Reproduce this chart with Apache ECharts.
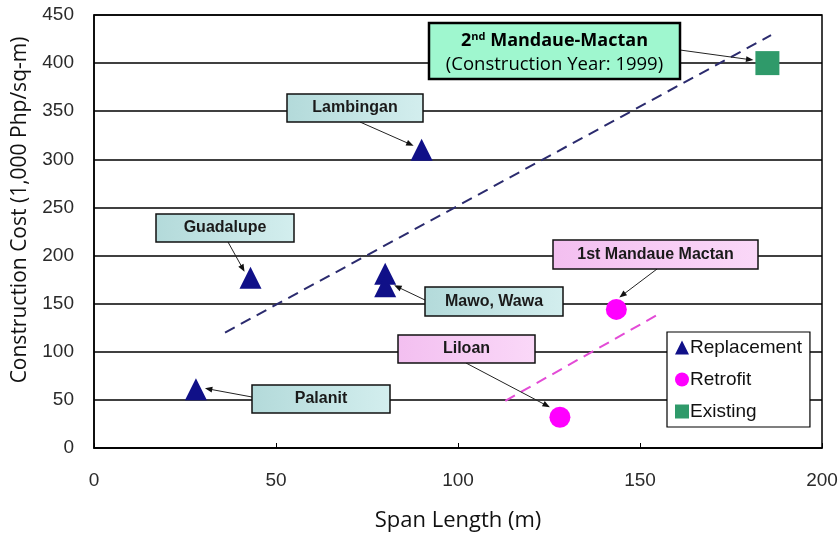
<!DOCTYPE html>
<html>
<head>
<meta charset="utf-8">
<title>Construction Cost vs Span Length</title>
<script src="https://cdn.jsdelivr.net/npm/echarts@6/dist/echarts.min.js"></script>
<style>html,body{margin:0;padding:0;background:#fff;}</style>
</head>
<body>
<div id="main" style="width:838px;height:534px;"></div>
<script>
// data: [span length (m), cost (1,000 Php/sq-m)]
var replacement = [[28, 61], [43, 177], [80, 181], [80, 168], [90, 310]];
var retrofit = [[143.5, 144], [128, 32]];
var existing = [[185, 400]];
var trendReplacement = [[36, 120], [186, 429]];
var trendRetrofit = [[113, 49], [156, 141]];
var seriesNames = ['Replacement', 'Retrofit', 'Existing'];

// callouts: box in pixels, arrow tail in pixels, arrow head = point + offset
var callouts = [
  { text: 'Lambingan', box: [287, 94, 136, 28], fill: ['#b3dada', '#d3eeee'], from: [360, 122], pt: replacement[4], off: [-8, -4] },
  { text: 'Guadalupe', box: [156, 214, 138, 28], fill: ['#b3dada', '#d3eeee'], from: [228, 242], pt: replacement[1], off: [-6, -6] },
  { text: 'Mawo, Wawa', box: [425, 287, 138, 29], fill: ['#b3dada', '#d3eeee'], from: [425, 300], pt: replacement[3], off: [9, -1] },
  { text: 'Palanit', box: [252, 385, 138, 28], fill: ['#b3dada', '#d3eeee'], from: [252, 397], pt: replacement[0], off: [9, -1] },
  { text: '1st Mandaue Mactan', box: [553, 240, 205, 29], fill: ['#f3bff0', '#fad8f8'], from: [657, 269], pt: retrofit[0], off: [3, -12] },
  { text: 'Liloan', box: [398, 335, 137, 28], fill: ['#f3bff0', '#fad8f8'], from: [466, 363], pt: retrofit[1], off: [-10, -10] }
];
var bigCallout = { box: [429, 23, 251, 56], fill: '#9ff7cf', from: [680, 50], pt: existing[0], off: [-14, -3] };

var chart = echarts.init(document.getElementById('main'));
var tickFont = { fontFamily: 'Liberation Sans', fontSize: 19, color: '#2a2a2a' };

var option = {
  animation: false,
  grid: { left: 94, right: 16, top: 15, bottom: 86, outerBoundsMode: 'none', containLabel: false,
    show: true, borderColor: '#000', borderWidth: 1.5 },
  legend: {
    data: seriesNames,
    orient: 'vertical',
    left: 667, top: 332,
    padding: [6, 8, 6, 8],
    itemGap: 13,
    itemWidth: 14, itemHeight: 14,
    backgroundColor: '#fff',
    borderColor: '#000', borderWidth: 1.2,
    textStyle: { fontFamily: 'Liberation Sans', fontSize: 19, color: '#111', padding: [0, 0, 0, -4] }
  },
  xAxis: {
    type: 'value', min: 0, max: 200, interval: 50,
    axisLine: { lineStyle: { color: '#000', width: 1.5 } },
    axisTick: { inside: true, length: 5, lineStyle: { color: '#000' } },
    splitLine: { show: false },
    axisLabel: Object.assign({ margin: 23 }, tickFont),
    name: 'Span Length (m)', nameLocation: 'middle', nameGap: 62,
    nameTextStyle: { fontFamily: 'Open Sans', fontSize: 22, color: '#111' }
  },
  yAxis: {
    type: 'value', min: 0, max: 450, interval: 50,
    axisLine: { show: true, lineStyle: { color: '#000', width: 1.5 } },
    axisTick: { show: false },
    splitLine: { lineStyle: { color: '#000', width: 1.5 } },
    axisLabel: Object.assign({ margin: 20 }, tickFont)
  },
  series: [
    { type: 'line', data: trendReplacement, symbol: 'none', silent: true,
      lineStyle: { color: '#2b2b6e', width: 2, type: [11, 7] } },
    { type: 'line', data: trendRetrofit, symbol: 'none', silent: true,
      lineStyle: { color: '#e34bd6', width: 2, type: [11, 7] } },
    { name: 'Replacement', type: 'scatter', data: replacement, symbol: 'triangle', symbolSize: 22,
      itemStyle: { color: '#101088', opacity: 1 } },
    { name: 'Retrofit', type: 'scatter', data: retrofit, symbol: 'circle', symbolSize: 21,
      itemStyle: { color: '#ff00ff', opacity: 1 } },
    { name: 'Existing', type: 'scatter', data: existing, symbol: 'rect', symbolSize: 24,
      itemStyle: { color: '#2f9a6a', opacity: 1 } }
  ]
};
chart.setOption(option);

function arrow(from, to) {
  var dx = to[0] - from[0], dy = to[1] - from[1];
  var a = Math.atan2(dy, dx), L = 8, w = 0.38;
  var p1 = [to[0] - L * Math.cos(a - w), to[1] - L * Math.sin(a - w)];
  var p2 = [to[0] - L * Math.cos(a + w), to[1] - L * Math.sin(a + w)];
  return [
    { type: 'line', z: 50, shape: { x1: from[0], y1: from[1], x2: to[0] - 5 * Math.cos(a), y2: to[1] - 5 * Math.sin(a) },
      style: { stroke: '#222', lineWidth: 1 } },
    { type: 'polygon', z: 50, shape: { points: [to, p1, p2] }, style: { fill: '#111' } }
  ];
}

function headOf(c) {
  var p = chart.convertToPixel({ gridIndex: 0 }, c.pt);
  return [p[0] + c.off[0], p[1] + c.off[1]];
}

var elements = [];
callouts.forEach(function (c) {
  var b = c.box;
  elements.push({ type: 'rect', z: 60, shape: { x: b[0], y: b[1], width: b[2], height: b[3] },
    style: { fill: new echarts.graphic.LinearGradient(0, 0, 1, 0, [{ offset: 0, color: c.fill[0] }, { offset: 1, color: c.fill[1] }]),
      stroke: '#111', lineWidth: 1.5 } });
  elements.push({ type: 'text', z: 61, x: b[0] + b[2] / 2, y: b[1] + b[3] / 2,
    style: { text: c.text, fill: '#1a1a1a', font: 'bold 16px "Liberation Sans"', align: 'center', verticalAlign: 'middle' } });
  elements = elements.concat(arrow(c.from, headOf(c)));
});

var bb = bigCallout.box;
elements.push({ type: 'rect', z: 60, shape: { x: bb[0], y: bb[1], width: bb[2], height: bb[3] },
  style: { fill: bigCallout.fill, stroke: '#000', lineWidth: 2.5 } });
elements.push({ type: 'text', z: 61, x: bb[0] + bb[2] / 2, y: bb[1] + 18,
  style: {
    text: '{b|2}{sup|nd}{b| Mandaue-Mactan}', align: 'center', verticalAlign: 'middle',
    rich: {
      b: { font: 'bold 18px "Open Sans"', fill: '#000' },
      sup: { font: 'bold 11px "Open Sans"', fill: '#000', padding: [0, 0, 9, 0] }
    }
  } });
elements.push({ type: 'text', z: 61, x: bb[0] + bb[2] / 2, y: bb[1] + 42,
  style: { text: '(Construction Year: 1999)', fill: '#000', font: '18.5px "Open Sans"', align: 'center', verticalAlign: 'middle' } });
elements = elements.concat(arrow(bigCallout.from, headOf(bigCallout)));

elements.push({ type: 'text', z: 61, x: 20, y: 210, rotation: Math.PI / 2,
  style: { text: 'Construction Cost (1,000 Php/sq-m)', fill: '#111', font: '21px "Open Sans"', align: 'center', verticalAlign: 'middle' } });

chart.setOption({ graphic: { elements: elements } });
</script>
</body>
</html>
